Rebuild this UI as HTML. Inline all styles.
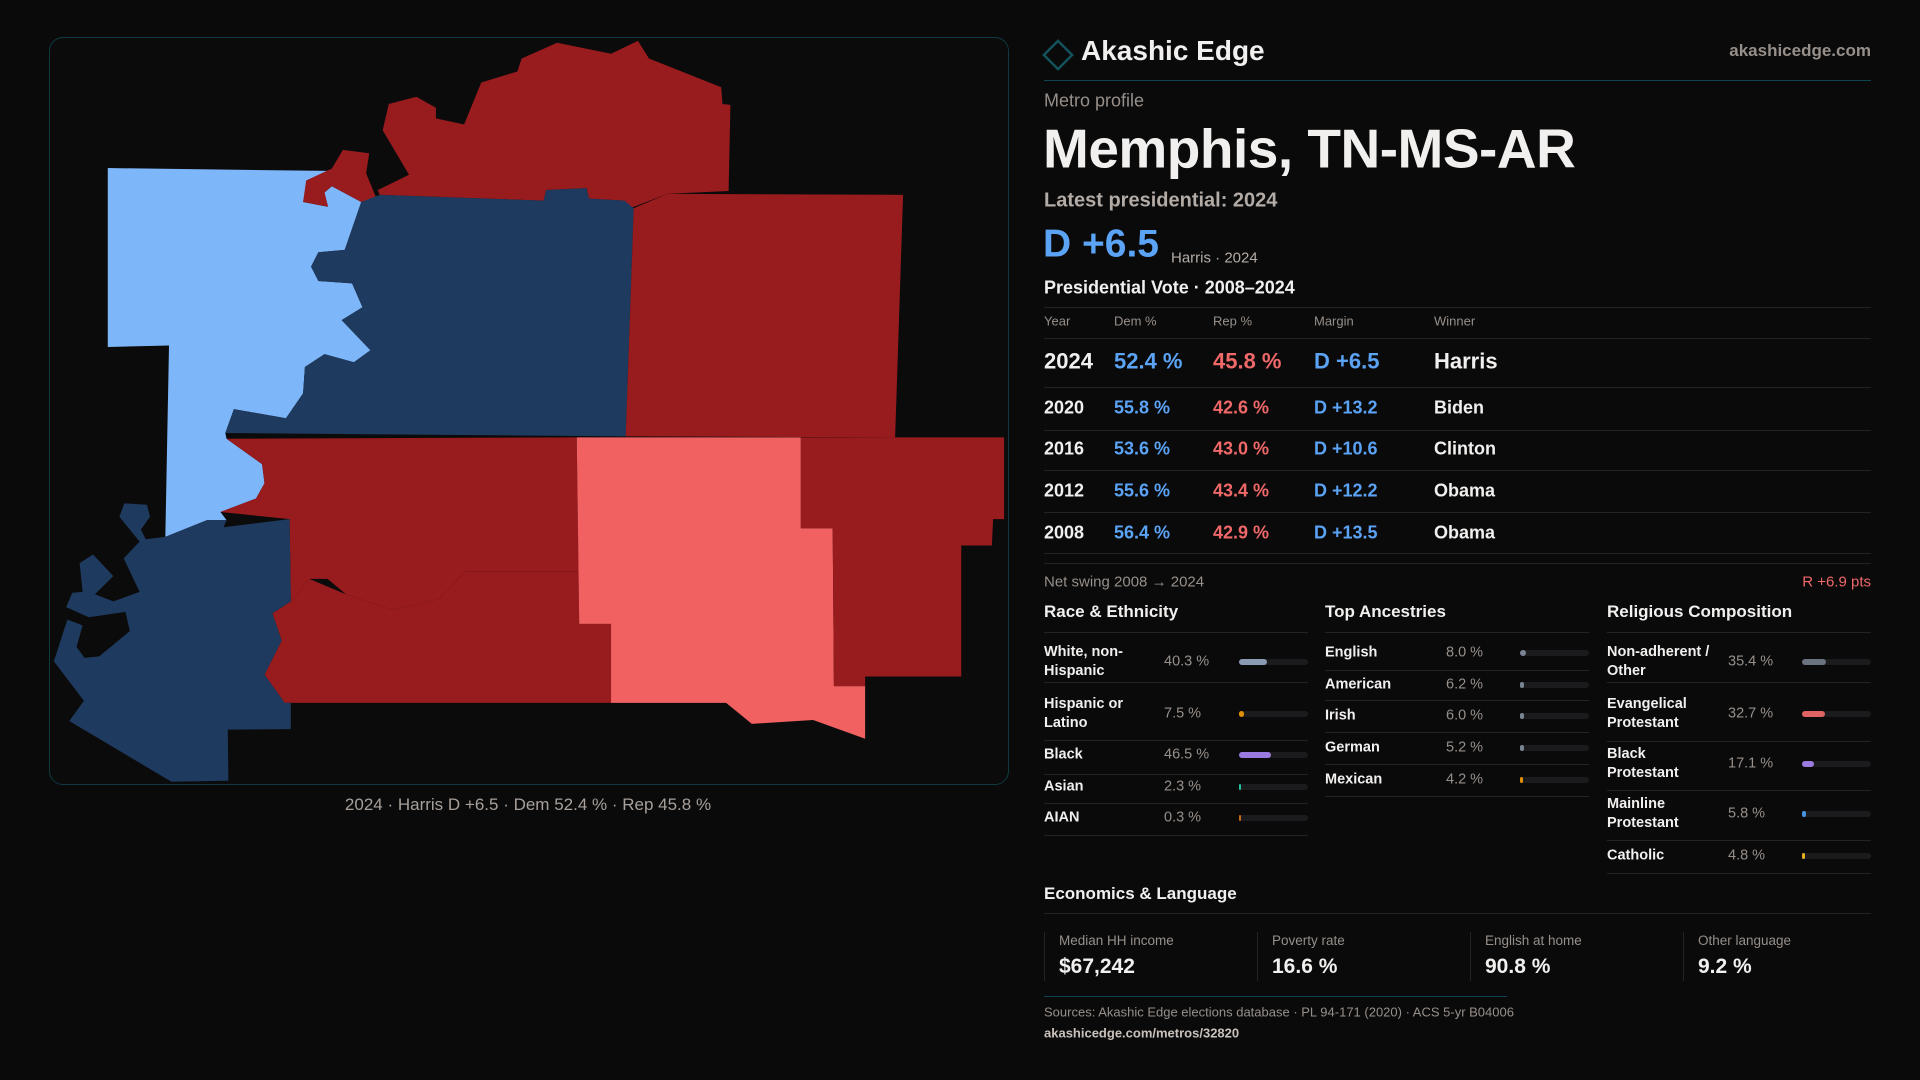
<!DOCTYPE html>
<html><head><meta charset="utf-8">
<style>
html,body{margin:0;padding:0;background:#0a0a0b;}
body{width:1920px;height:1080px;position:relative;overflow:hidden;font-family:"Liberation Sans",sans-serif;color:#f2f0ee;}
.t{position:absolute;transform:translateY(-50%);white-space:nowrap;line-height:1.15;}
.ln{position:absolute;height:1px;background:#232326;}
.g{color:#978f89;}
.b{color:#5ba3f5;}
.r{color:#f06868;}
.bold{font-weight:bold;}
</style></head>
<body>
<div style="position:absolute;left:49px;top:37px;width:958px;height:746px;border:1px solid #0f3a42;border-radius:14px;background:#0b0b0c;"></div>
<svg id="map" style="position:absolute;left:49px;top:37px;" width="960" height="750" viewBox="0 0 1568 1568" preserveAspectRatio="none"></svg>
<div class="t g" style="left:528px;top:805px;transform:translate(-50%,-50%);font-size:17px;color:#a8a09a;">2024 · Harris D +6.5 · Dem 52.4 % · Rep 45.8 %</div>

<svg style="position:absolute;left:1042px;top:39px" width="32" height="32"><rect x="6" y="6" width="20" height="20" transform="rotate(45 16 16)" fill="none" stroke="#13525c" stroke-width="2.5"/></svg>
<div class="t bold" style="left:1081px;top:51px;font-size:28px;">Akashic Edge</div>
<div class="t g bold" style="right:49px;top:51px;font-size:17px;">akashicedge.com</div>
<div class="ln" style="left:1044px;top:80px;width:827px;background:#0e4650;"></div>

<div class="t g" style="left:1044px;top:101px;font-size:18px;">Metro profile</div>
<div class="t bold" style="left:1043px;top:149px;font-size:55px;letter-spacing:-0.5px;">Memphis, TN-MS-AR</div>
<div class="t bold" style="left:1044px;top:201px;font-size:20px;color:#b3aba5;">Latest presidential: 2024</div>
<div class="t b bold" style="left:1043px;top:245px;font-size:39px;">D +6.5</div>
<div class="t g" style="left:1171px;top:258px;font-size:15px;color:#b3aba5;">Harris · 2024</div>
<div class="t bold" style="left:1044px;top:288px;font-size:18px;">Presidential Vote · 2008–2024</div>
<div id="tbl"></div>

<div class="ln" style="left:1044px;top:563px;width:827px;"></div>
<div class="t g" style="left:1044px;top:582px;font-size:15px;">Net swing 2008 → 2024</div>
<div class="t r" style="right:49px;top:582px;font-size:15px;">R +6.9 pts</div>
<div id="demo"></div>

<div class="t bold" style="left:1044px;top:894px;font-size:17px;">Economics &amp; Language</div>
<div class="ln" style="left:1044px;top:913px;width:827px;"></div>
<div id="econ"></div>
<div class="ln" style="left:1044px;top:996px;width:463px;background:#0e4650;"></div>
<div class="t g" style="left:1044px;top:1013px;font-size:13px;">Sources: Akashic Edge elections database · PL 94-171 (2020) · ACS 5-yr B04006</div>
<div class="t bold" style="left:1044px;top:1034px;font-size:13px;color:#c9c2bc;">akashicedge.com/metros/32820</div>

<script>
// Map data
const countyNames=["Crittenden","Tipton-north","Tipton-tip","Shelby","Fayette","DeSoto","Tate","Marshall","Benton","Tunica"];
const countyMargins=[12,-35,-35,30,-30,-28,-30,-12,-35,25];
const countyShapes=[
"96,274 455,280 425,298 415,345 455,355 450,325 462,312 510,345 483,445 440,450 428,480 440,510 495,515 512,565 478,592 525,655 498,680 450,663 418,690 415,745 387,797 302,778 288,828 290,840 348,893 352,933 338,965 280,993 290,1010 258,1010 190,1045 196,645 96,648",
"545,195 555,140 600,125 632,148 632,170 678,183 706,95 765,72 772,45 830,12 918,35 962,8 980,45 1098,105 1100,140 1113,142 1110,322 1010,328 945,360 940,342 882,338 878,316 812,320 808,342 540,330 537,320 588,288",
"415,345 420,300 462,275 480,236 523,243 518,285 535,338 510,345 462,312 450,325 456,355",
"510,345 540,330 808,342 812,320 878,316 882,338 940,342 955,358 942,835 288,828 302,778 387,797 415,745 418,690 450,663 498,680 525,655 478,592 512,565 495,515 440,510 428,480 440,450 483,445",
"955,358 1010,328 1395,330 1382,837 942,835",
"290,840 862,837 865,1117 680,1117 637,1175 562,1198 485,1165 455,1133 425,1133 395,1180 393,1008 280,993 338,965 352,933 348,893",
"425,1133 485,1165 562,1198 637,1175 680,1117 865,1117 866,1227 918,1227 918,1392 385,1392 352,1333 380,1262 365,1205 395,1180",
"862,837 1228,837 1228,1027 1280,1027 1282,1357 1333,1357 1333,1467 1248,1428 1148,1436 1106,1392 918,1392 918,1227 866,1227",
"1228,837 1560,837 1560,1008 1542,1008 1540,1063 1490,1063 1490,1337 1333,1337 1333,1357 1282,1357 1280,1027 1228,1027",
"190,1045 258,1010 290,1010 285,1025 393,1008 395,1180 365,1205 380,1262 352,1333 385,1392 395,1392 395,1447 292,1448 293,1555 200,1557 33,1430 57,1388 8,1305 30,1218 55,1230 45,1275 58,1298 82,1295 132,1242 125,1202 65,1213 28,1192 38,1162 55,1160 50,1100 72,1082 105,1127 75,1165 105,1180 148,1160 122,1090 148,1055 115,1003 123,975 160,978 165,1003 150,1030 158,1050"
];
function marginColor(m){ if(m>=20) return "#1f3a5f"; if(m>0) return "#7eb6fa"; if(m>-20) return "#f26161"; return "#981b1e"; }
const svg=document.getElementById('map');
countyShapes.forEach((pts,i)=>{
  const p=document.createElementNS("http://www.w3.org/2000/svg","polygon");
  p.setAttribute('points',pts);
  p.setAttribute('fill',marginColor(countyMargins[i]));
  
  
  svg.appendChild(p);
});

// Vote table data
const years=["2024","2020","2016","2012","2008"];
const demPct=[52.4,55.8,53.6,55.6,56.4];
const repPct=[45.8,42.6,43.0,43.4,42.9];
const margins=[6.5,13.2,10.6,12.2,13.5];
const winners=["Harris","Biden","Clinton","Obama","Obama"];
const tbl=document.getElementById('tbl');
function add(parent,html){parent.insertAdjacentHTML('beforeend',html);return parent.lastElementChild;}
const colX=[1044,1114,1213,1314,1434];
const headers=["Year","Dem %","Rep %","Margin","Winner"];
add(tbl,'<div class="ln" style="left:1044px;top:307px;width:827px;"></div>');


headers.forEach((h,i)=>{
  const e=add(tbl,`<div class="t g" style="left:${colX[i]}px;top:322px;font-size:13px;">${h}</div>`);
  
  
});
const rowY=[361,408,449,491,533];
const ruleY=[338,387,430,470,512,553];
ruleY.forEach(y=>{const e=add(tbl,`<div class="ln" style="left:1044px;top:${y}px;width:827px;"></div>`);
  
  });
years.forEach((yr,i)=>{
  const fs=i===0?22:18;
  const m=margins[i];
  const mt=(m>=0?'D +':'R +')+Math.abs(m).toFixed(1);
  const cells=[[yr,'',"year"],[demPct[i].toFixed(1)+' %','b',"dem"],[repPct[i].toFixed(1)+' %','r',"rep"],[mt,'b',"margin"],[winners[i],'',"winner"]];
  cells.forEach((c,j)=>{
    const e=add(tbl,`<div class="t bold ${c[1]}" style="left:${colX[j]}px;top:${rowY[i]}px;font-size:${fs}px;">${c[0]}</div>`);
    
    
  });
});

// Demographics data
const raceLabels=["White, non-<br>Hispanic","Hispanic or<br>Latino","Black","Asian","AIAN"];
const raceValues=[40.3,7.5,46.5,2.3,0.3];
const raceColors=["#8a9ab2","#e0900a","#9b7be0","#22c0a0","#c46a1c"];
const ancLabels=["English","American","Irish","German","Mexican"];
const ancValues=[8.0,6.2,6.0,5.2,4.2];
const ancColors=["#7a8494","#7a8494","#7a8494","#7a8494","#e0900a"];
const relLabels=["Non-adherent /<br>Other","Evangelical<br>Protestant","Black<br>Protestant","Mainline<br>Protestant","Catholic"];
const relValues=[35.4,32.7,17.1,5.8,4.8];
const relColors=["#6b7280","#e06363","#9b7be0","#4a90e0","#e0b020"];
const demo=document.getElementById('demo');
const sections=[
 {title:"Race & Ethnicity",x:1044,w:264,labels:raceLabels,vals:raceValues,cols:raceColors,ys:[662,714,755,787,818],rules:[682,740,774,803,835],vx:1164,bx:1239},
 {title:"Top Ancestries",x:1325,w:264,labels:ancLabels,vals:ancValues,cols:ancColors,ys:[653,685,716,748,780],rules:[670,700,732,764,796],vx:1446,bx:1520},
 {title:"Religious Composition",x:1607,w:264,labels:relLabels,vals:relValues,cols:relColors,ys:[662,714,764,814,856],rules:[682,741,790,840,873],vx:1728,bx:1802}
];
const barW=69;
sections.forEach((s,si)=>{
  let e=add(demo,`<div class="t bold" style="left:${s.x}px;top:612px;font-size:17px;">${s.title.replace('&','&amp;')}</div>`);
  
  
  e=add(demo,`<div class="ln" style="left:${s.x}px;top:632px;width:${s.w}px;"></div>`);
  
  
  s.labels.forEach((lab,i)=>{
    const y=s.ys[i];
    let el=add(demo,`<div class="t bold" style="left:${s.x}px;top:${y}px;font-size:14.5px;line-height:19px;">${lab}</div>`);
    
    
    el=add(demo,`<div class="t g" style="left:${s.vx}px;top:${y}px;font-size:14.5px;">${s.vals[i].toFixed(1)} %</div>`);
    
    
    el=add(demo,`<div style="position:absolute;left:${s.bx}px;top:${y-3}px;width:${barW}px;height:6px;border-radius:3px;background:#1b1b1e;"></div>`);
    
    
    const fw=Math.max(2,barW*s.vals[i]/100);
    el=add(demo,`<div style="position:absolute;left:${s.bx}px;top:${y-3}px;width:${fw}px;height:6px;border-radius:3px;background:${s.cols[i]};"></div>`);
    
    
    el=add(demo,`<div class="ln" style="left:${s.x}px;top:${s.rules[i]}px;width:${s.w}px;"></div>`);
    
    
  });
});

// Economics
const econLabels=["Median HH income","Poverty rate","English at home","Other language"];
const econValues=["$67,242","16.6 %","90.8 %","9.2 %"];
const econ=document.getElementById('econ');
econLabels.forEach((l,i)=>{
  const x=1044+i*213;
  let e=add(econ,`<div style="position:absolute;left:${x}px;top:932px;width:1px;height:49px;background:#232326;"></div>`);
  
  
  e=add(econ,`<div class="t g" style="left:${x+15}px;top:941px;font-size:13.5px;">${l}</div>`);
  
  
  e=add(econ,`<div class="t bold" style="left:${x+15}px;top:967px;font-size:21px;">${econValues[i]}</div>`);
  
  
});
</script>
</body></html>
